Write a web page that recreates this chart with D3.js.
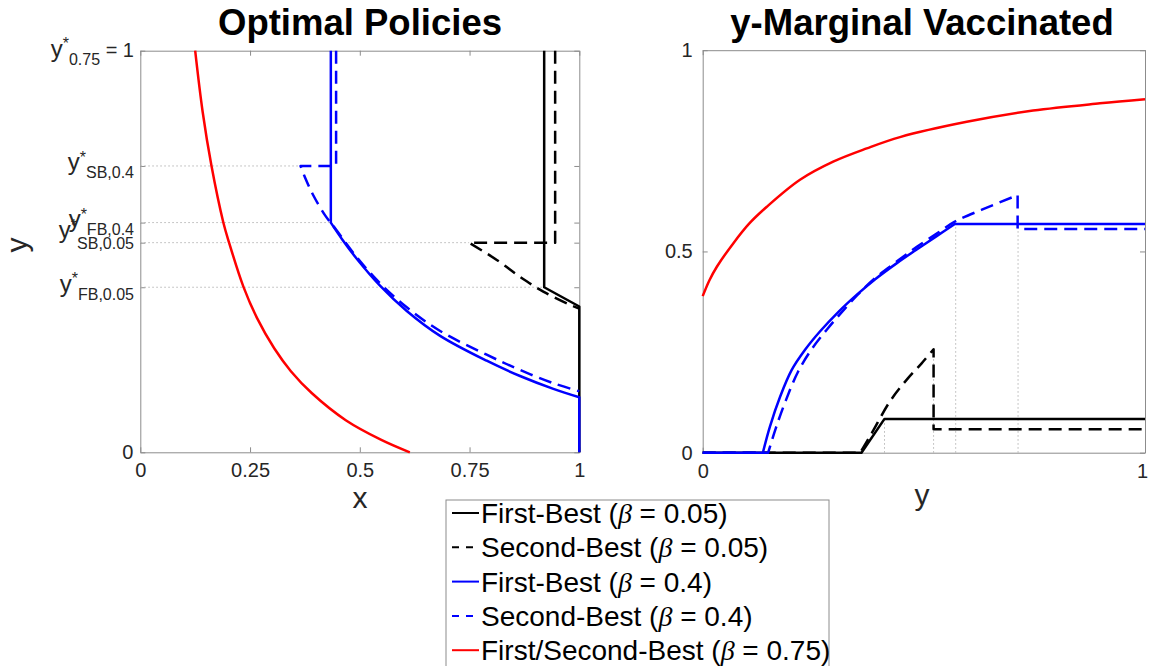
<!DOCTYPE html>
<html>
<head>
<meta charset="utf-8">
<script src="https://cdn.jsdelivr.net/npm/d3@7"></script>
<style>
  body { margin: 0; background: #fff; }
  text { font-family: "Liberation Sans", Arial, Helvetica, sans-serif; }
</style>
</head>
<body>
<div id="chart"></div>
<script>
// thresholds y* (where the dotted guide lines sit)
const yFB05 = 0.411, ySB05 = 0.522, yFB04 = 0.572, ySB04 = 0.713;

// left panel: optimal policy, points are [x, y]
const policyFB05 = [[0.920, 1], [0.920, 0.411], [1, 0.363], [1, 0]];
const policySB05 = [[0.945, 1], [0.945, 0.522], [0.749, 0.522], [0.812, 0.479], [0.865, 0.437],
  [0.918, 0.400], [0.979, 0.367], [1, 0.358]];
const policyFB04 = [[0.434, 1], [0.434, 0.572], [0.460, 0.530], [0.493, 0.482], [0.546, 0.415],
  [0.607, 0.352], [0.683, 0.290], [0.789, 0.228], [0.865, 0.190], [0.941, 0.158], [1, 0.137], [1, 0]];
const policySB04 = [[0.446, 1], [0.446, 0.713], [0.365, 0.713], [0.375, 0.685], [0.394, 0.640],
  [0.421, 0.590], [0.445, 0.556], [0.493, 0.486], [0.546, 0.421], [0.607, 0.361], [0.683, 0.302],
  [0.789, 0.243], [0.865, 0.205], [0.941, 0.172], [1, 0.152]];
const policy075 = [[0.125, 1], [0.142, 0.848], [0.162, 0.714], [0.189, 0.573], [0.202, 0.523],
  [0.235, 0.412], [0.266, 0.334], [0.305, 0.259], [0.343, 0.202], [0.391, 0.147], [0.468, 0.080],
  [0.549, 0.031], [0.614, 0]];

// right panel: y-marginal vaccinated, points are [y, share]
const margFB05 = [[0, 0], [0.359, 0], [0.411, 0.084], [1, 0.084]];
const margSB05 = [[0, 0], [0.356, 0], [0.382, 0.048], [0.423, 0.127], [0.461, 0.181],
  [0.495, 0.222], [0.522, 0.257], [0.522, 0.058], [1, 0.058]];
const margFB04 = [[0, 0], [0.136, 0], [0.152, 0.065], [0.175, 0.139], [0.201, 0.205], [0.231, 0.255],
  [0.265, 0.301], [0.307, 0.350], [0.348, 0.392], [0.390, 0.431], [0.439, 0.471], [0.484, 0.505],
  [0.529, 0.538], [0.570, 0.568], [1, 0.568]];
const margSB04 = [[0, 0], [0.148, 0], [0.165, 0.060], [0.188, 0.130], [0.215, 0.200], [0.245, 0.255],
  [0.280, 0.305], [0.315, 0.350], [0.350, 0.392], [0.390, 0.434], [0.440, 0.476], [0.485, 0.512],
  [0.530, 0.545], [0.570, 0.574], [0.634, 0.605], [0.712, 0.640], [0.712, 0.556], [1, 0.556]];
const marg075 = [[0, 0.389], [0.015, 0.428], [0.032, 0.462], [0.069, 0.520], [0.105, 0.569],
  [0.145, 0.611], [0.220, 0.678], [0.295, 0.723], [0.371, 0.756], [0.446, 0.784], [0.597, 0.822],
  [0.747, 0.850], [0.898, 0.868], [1, 0.878]];

// guide lines: left [y*, x where the curve starts], right [y*, share reached]
const leftGuides = [[yFB05, 0.920], [ySB05, 0.749], [yFB04, 0.434], [ySB04, 0.365]];
const rightGuides = [[yFB05, 0.084], [ySB05, 0.257], [yFB04, 0.568], [ySB04, 0.568]];

const xTicksLeft = [0, 0.25, 0.5, 0.75, 1];
const yTicksLeft = [0, yFB05, ySB05, yFB04, ySB04, 1];
const yStarSubs = ["FB,0.05", "SB,0.05", "FB,0.4", "SB,0.4", "0.75"];
const xTicksRight = [0, 1];
const yTicksRight = [0, 0.5, 1];

const legendLabels = [["First-Best (", " = 0.05)"], ["Second-Best (", " = 0.05)"],
  ["First-Best (", " = 0.4)"], ["Second-Best (", " = 0.4)"], ["First/Second-Best (", " = 0.75)"]];

const W = 1149, H = 666;
const axisColor = "#8c8c8c", textColor = "#262626";
const dash = "13,7";

const svg = d3.select("#chart").append("svg")
  .attr("width", W).attr("height", H)
  .style("background", "#fff");

const xL = d3.scaleLinear([0, 1], [140.3, 579.3]);
const yL = d3.scaleLinear([0, 1], [452.3, 50.7]);
const xR = d3.scaleLinear([0, 1], [702.7, 1145]);
const yR = d3.scaleLinear([0, 1], [452.7, 50.2]);

// box with inward ticks on all four sides
function frame(xs, ys, xTicks, yTicks, xFmt, yFmt, yPad) {
  const [x0, x1] = xs.range(), [y0, y1] = ys.range();
  const g = svg.append("g");
  g.append("g").attr("class", "xb").attr("transform", `translate(0,${y0})`)
    .call(d3.axisBottom(xs).tickValues(xTicks).tickSizeInner(-5).tickSizeOuter(0).tickPadding(11).tickFormat(xFmt));
  g.append("g").attr("transform", `translate(0,${y1})`)
    .call(d3.axisTop(xs).tickValues(xTicks).tickSizeInner(-5).tickSizeOuter(0).tickFormat(""));
  g.append("g").attr("transform", `translate(${x0},0)`)
    .call(d3.axisLeft(ys).tickValues(yTicks).tickSizeInner(-5).tickSizeOuter(0).tickPadding(yPad).tickFormat(yFmt));
  g.append("g").attr("transform", `translate(${x1},0)`)
    .call(d3.axisRight(ys).tickValues(yTicks).tickSizeInner(-5).tickSizeOuter(0).tickFormat(""));
  g.selectAll("g").attr("font-size", 20).attr("font-family", null);
  g.selectAll(".domain, .tick line").attr("stroke", axisColor);
  g.selectAll(".tick text").attr("fill", textColor);
  return g;
}

frame(xL, yL, xTicksLeft, yTicksLeft, d => String(d), d => d === 0 ? "0" : "", 7);
const fr = frame(xR, yR, xTicksRight, yTicksRight, d => String(d), d => String(d), 10);
// keep the last "1" inside the picture
fr.selectAll(".xb .tick text").filter(d => d === 1).attr("dx", -3);

// starred y labels on the left panel
yTicksLeft.slice(1).forEach((v, i) => {
  const crowded = yStarSubs[i] === "SB,0.05";
  const top = v === 1;
  const t = svg.append("text")
    .attr("x", 134).attr("y", yL(v) + (top ? 6 : 4.5) + (crowded ? -9 : 0))
    .attr("text-anchor", "end").attr("fill", textColor).attr("font-size", 24);
  t.append("tspan").text("y");
  t.append("tspan").attr("font-size", 16).attr("dy", -7.5).text("*");
  t.append("tspan").attr("font-size", 16).attr("dy", crowded ? 18 : 15.5).text(yStarSubs[i]);
  if (top) t.append("tspan").attr("font-size", 20).attr("dy", -8).text(" = 1");
});

// dotted guides
svg.append("g").selectAll("line").data(leftGuides).join("line")
  .attr("x1", xL(0)).attr("x2", d => xL(d[1]))
  .attr("y1", d => yL(d[0])).attr("y2", d => yL(d[0]))
  .attr("stroke", "#b5b5b5").attr("stroke-dasharray", "1.5,2.5");
svg.append("g").selectAll("line").data(rightGuides).join("line")
  .attr("x1", d => xR(d[0])).attr("x2", d => xR(d[0]))
  .attr("y1", yR(0)).attr("y2", d => yR(d[1]))
  .attr("stroke", "#b5b5b5").attr("stroke-dasharray", "1.5,2.5");

// sl / sr = index range of the curved stretch, the rest is drawn straight
const series = [
  { left: policyFB05, right: margFB05, color: "#000", dashed: false },
  { left: policySB05, right: margSB05, color: "#000", dashed: true, sl: [2, 7], sr: [1, 6] },
  { left: policyFB04, right: margFB04, color: "#0000ff", dashed: false, sl: [1, 10], sr: [1, 13] },
  { left: policySB04, right: margSB04, color: "#0000ff", dashed: true, sl: [2, 14], sr: [1, 15] },
  { left: policy075, right: marg075, color: "#ff0000", dashed: false, sl: [0, 12], sr: [0, 13] }
];

function pathOf(pts, xs, ys, range) {
  const straight = d3.line().x(d => xs(d[0])).y(d => ys(d[1]));
  if (!range) return straight(pts);
  const smooth = d3.line().x(d => xs(d[0])).y(d => ys(d[1])).curve(d3.curveCatmullRom.alpha(0.5));
  const [a, b] = range;
  const parts = [];
  if (a > 0) parts.push(straight(pts.slice(0, a + 1)));
  parts.push(smooth(pts.slice(a, b + 1)));
  if (b < pts.length - 1) parts.push(straight(pts.slice(b)));
  return parts.map((p, i) => i === 0 ? p : "L" + p.slice(1)).join("");
}

series.forEach(s => {
  [[s.left, xL, yL, s.sl], [s.right, xR, yR, s.sr]].forEach(([pts, xs, ys, rg]) => {
    svg.append("path")
      .attr("d", pathOf(pts, xs, ys, rg))
      .attr("fill", "none")
      .attr("stroke", s.color)
      .attr("stroke-width", 2.5)
      .attr("stroke-linejoin", "round")
      .attr("stroke-dasharray", s.dashed ? dash : null);
  });
});

// titles and axis labels
svg.append("text").attr("x", 360).attr("y", 35).attr("text-anchor", "middle")
  .attr("font-size", 36.5).attr("font-weight", "bold").text("Optimal Policies");
svg.append("text").attr("x", 922).attr("y", 35).attr("text-anchor", "middle")
  .attr("font-size", 36.5).attr("font-weight", "bold").text("y-Marginal Vaccinated");
svg.append("text").attr("x", 360).attr("y", 508).attr("text-anchor", "middle")
  .attr("font-size", 30).attr("fill", textColor).text("x");
svg.append("text").attr("x", 922).attr("y", 505).attr("text-anchor", "middle")
  .attr("font-size", 30).attr("fill", textColor).text("y");
svg.append("text").attr("transform", "translate(27,245) rotate(-90)").attr("text-anchor", "middle")
  .attr("font-size", 30).attr("fill", textColor).text("y");

// legend
const lg = svg.append("g");
lg.append("rect").attr("x", 446).attr("y", 500).attr("width", 383).attr("height", 180)
  .attr("fill", "#fff").attr("stroke", axisColor);
series.forEach((s, i) => {
  const y = 513 + i * 34.3;
  lg.append("line").attr("x1", 452).attr("x2", 479).attr("y1", y).attr("y2", y)
    .attr("stroke", s.color).attr("stroke-width", 2)
    .attr("stroke-dasharray", s.dashed ? "7,7" : null);
  const t = lg.append("text").attr("x", 481).attr("y", y + 10).attr("font-size", 28).attr("fill", "#000");
  t.append("tspan").text(legendLabels[i][0]);
  t.append("tspan").attr("font-style", "italic").attr("font-family", "'Liberation Serif', serif").text("β");
  t.append("tspan").text(legendLabels[i][1]);
});
</script>
</body>
</html>
